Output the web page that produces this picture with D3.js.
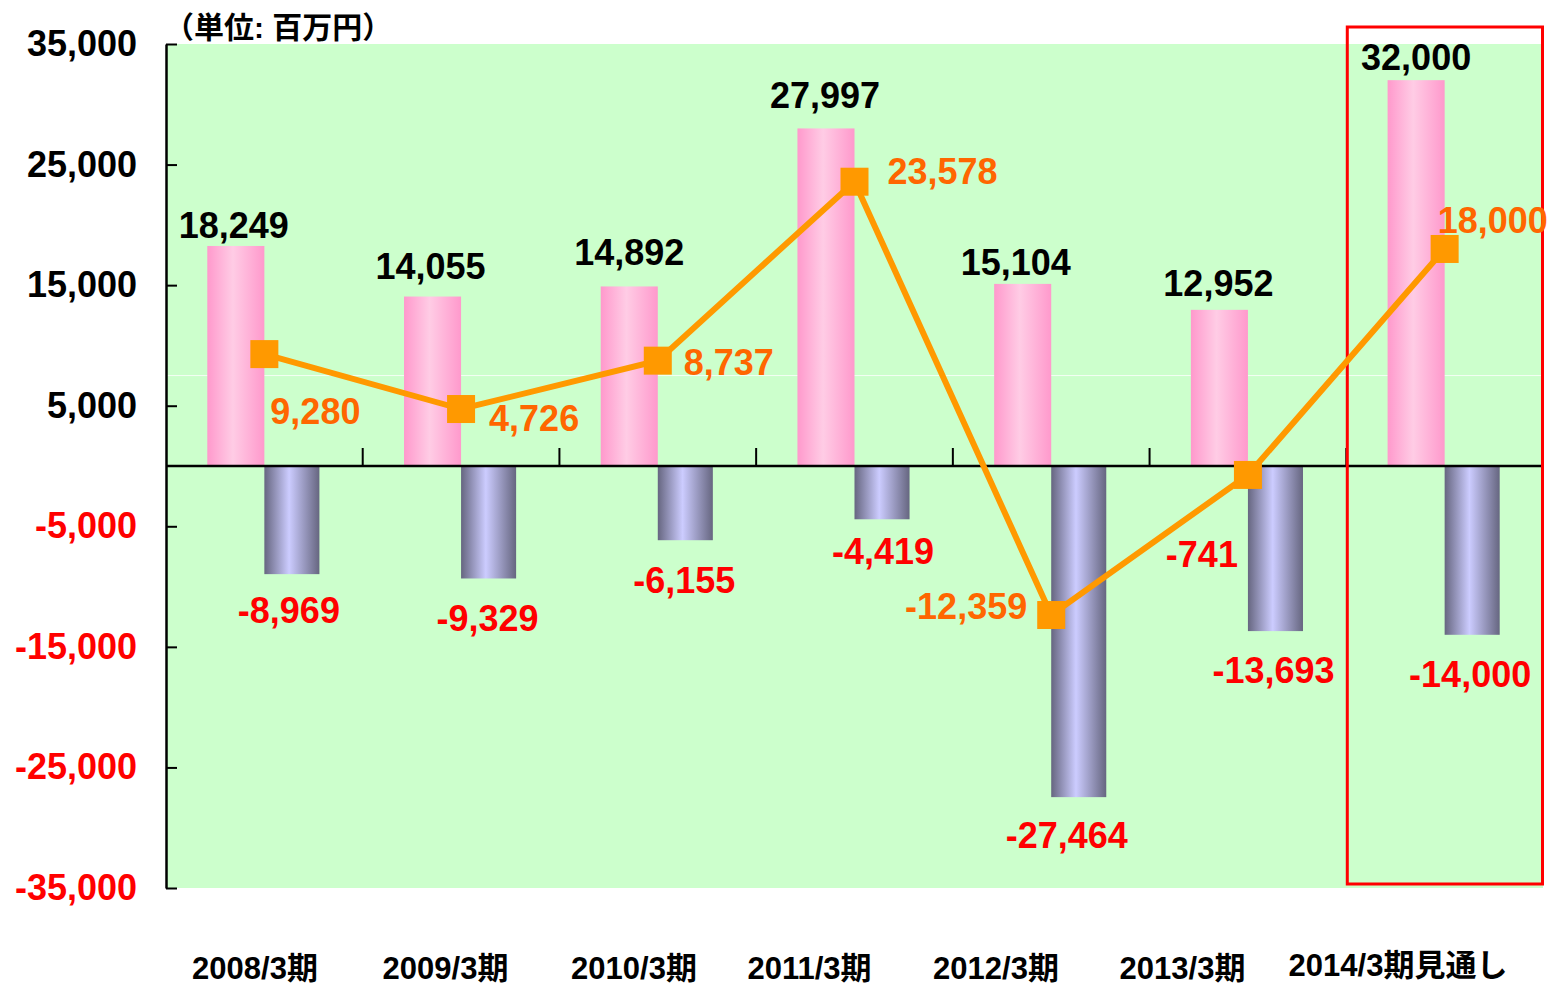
<!DOCTYPE html>
<html>
<head>
<meta charset="utf-8">
<title>業績推移</title>
<script src="https://d3js.org/d3.v7.min.js"></script>
<style>
  body { margin: 0; background: #fff; }
  svg text { font-family: "Liberation Sans", Arial, "Noto Sans CJK JP", sans-serif; font-weight: bold; }
</style>
</head>
<body>
<script>
// data
var categories = ["2008/3期", "2009/3期", "2010/3期", "2011/3期", "2012/3期", "2013/3期", "2014/3期見通し"];
var pinkValues = [18249, 14055, 14892, 27997, 15104, 12952, 32000];
var blueValues = [-8969, -9329, -6155, -4419, -27464, -13693, -14000];
var lineValues = [9280, 4726, 8737, 23578, -12359, -741, 18000];
var yTicks = [35000, 25000, 15000, 5000, -5000, -15000, -25000, -35000];
var unitLabel = "（単位: 百万円）";

// layout
var width = 1549, height = 985;
var plotLeft = 166, plotRight = 1543, plotTop = 44, plotBottom = 888;
var fmt = d3.formatLocale({decimal: ".", thousands: ",", grouping: [3], currency: ["", ""], minus: "-"}).format(",");

// label tweaks (pixels)
var pinkLabelGap = [8, 18, 21, 20, 9, 14, 10];
var pinkLabelDx = [-2, -2, 0, -1, -7, -1, 0];
var blueLabelGap = [49, 53, 53, 45, 51, 52, 52];
var blueLabelDx = [-3, -1, -1, 1, -12, -2, -2];
var lineLabelPos = [
  {anchor: "start", dx: 6, dy: 70},
  {anchor: "start", dx: 28, dy: 22},
  {anchor: "start", dx: 26, dy: 14},
  {anchor: "start", dx: 33, dy: 2},
  {anchor: "end", dx: -24, dy: 4},
  {anchor: "end", dx: -10, dy: 92},
  {anchor: "start", dx: -7, dy: -16}
];
var lineLabelColor = ["#FF6600", "#FF6600", "#FF6600", "#FF6600", "#FF6600", "#FF0000", "#FF6600"];
var catLabelShift = [0, 0, -2, -17, -21, -25, 0];

var svg = d3.select("body").append("svg")
  .attr("width", width)
  .attr("height", height);

var defs = svg.append("defs");
var pinkGrad = defs.append("linearGradient").attr("id", "pinkGrad").attr("x1", 0).attr("x2", 1).attr("y1", 0).attr("y2", 0);
pinkGrad.append("stop").attr("offset", "0%").attr("stop-color", "#FF99CC");
pinkGrad.append("stop").attr("offset", "45%").attr("stop-color", "#FFCCE5");
pinkGrad.append("stop").attr("offset", "100%").attr("stop-color", "#FF99CC");
var blueGrad = defs.append("linearGradient").attr("id", "blueGrad").attr("x1", 0).attr("x2", 1).attr("y1", 0).attr("y2", 0);
blueGrad.append("stop").attr("offset", "0%").attr("stop-color", "#666680");
blueGrad.append("stop").attr("offset", "45%").attr("stop-color", "#CCCCFF");
blueGrad.append("stop").attr("offset", "100%").attr("stop-color", "#666680");

var x = d3.scaleBand().domain(categories).range([plotLeft, plotRight]).paddingInner(0).paddingOuter(0);
var y = d3.scaleLinear().domain([-35000, 35000]).range([plotBottom, plotTop]);
var xLabel = d3.scalePoint().domain(categories).range([255, 1398]);
var barW = x.bandwidth() * 0.29;
var cx = function(d, i) { return x(categories[i]) + x.bandwidth() / 2; };

// plot background
svg.append("rect")
  .attr("x", plotLeft).attr("y", plotTop)
  .attr("width", plotRight - plotLeft).attr("height", plotBottom - plotTop)
  .attr("fill", "#CCFFCC");

svg.append("line")
  .attr("x1", plotLeft).attr("x2", plotRight)
  .attr("y1", y(7500)).attr("y2", y(7500))
  .attr("stroke", "#ffffff").attr("stroke-width", 1).attr("opacity", 0.8);

// bars
svg.append("g").selectAll("rect")
  .data(pinkValues)
  .enter()
  .append("rect")
  .attr("x", function(d, i) { return cx(d, i) - barW; })
  .attr("y", function(d) { return y(d); })
  .attr("width", barW)
  .attr("height", function(d) { return y(0) - y(d); })
  .attr("fill", "url(#pinkGrad)");

svg.append("g").selectAll("rect")
  .data(blueValues)
  .enter()
  .append("rect")
  .attr("x", function(d, i) { return cx(d, i); })
  .attr("y", y(0))
  .attr("width", barW - 2)
  .attr("height", function(d) { return y(d) - y(0); })
  .attr("fill", "url(#blueGrad)");

// zero line with category ticks
svg.append("line")
  .attr("x1", plotLeft).attr("x2", plotRight)
  .attr("y1", y(0)).attr("y2", y(0))
  .attr("stroke", "#000").attr("stroke-width", 2.5);

svg.append("g").selectAll("line")
  .data(categories.slice(1))
  .enter()
  .append("line")
  .attr("x1", function(d) { return x(d); })
  .attr("x2", function(d) { return x(d); })
  .attr("y1", y(0) - 18).attr("y2", y(0))
  .attr("stroke", "#000").attr("stroke-width", 2);

// y axis
var yAxis = svg.append("g")
  .attr("transform", "translate(" + plotLeft + ",0)")
  .call(d3.axisLeft(y).tickValues(yTicks).tickFormat(fmt).tickSizeInner(-11).tickSizeOuter(0).tickPadding(29));
yAxis.select(".domain").attr("stroke", "#000").attr("stroke-width", 2.5);
yAxis.selectAll(".tick line").attr("stroke", "#000").attr("stroke-width", 2);
yAxis.selectAll(".tick text")
  .attr("font-size", 36)
  .attr("font-family", "'Liberation Sans', Arial, sans-serif")
  .attr("font-weight", "bold")
  .attr("fill", function(d) { return d < 0 ? "#FF0000" : "#000"; });

// unit label
svg.append("text")
  .attr("x", 164).attr("y", 38)
  .attr("font-size", 30)
  .attr("fill", "#000")
  .text(unitLabel);

// category labels
svg.append("g").selectAll("text")
  .data(categories)
  .enter()
  .append("text")
  .attr("x", function(d, i) { return xLabel(d) + catLabelShift[i]; })
  .attr("y", function(d, i) { return i === 6 ? 976 : 979; })
  .attr("text-anchor", "middle")
  .attr("font-size", 31)
  .attr("fill", "#000")
  .text(function(d) { return d; });

// forecast box
svg.append("rect")
  .attr("x", x(categories[6]) + 1)
  .attr("y", y(35000) - 17)
  .attr("width", x.bandwidth() - 1.5)
  .attr("height", (y(-35000) - 4) - (y(35000) - 17))
  .attr("fill", "none")
  .attr("stroke", "#FF0000")
  .attr("stroke-width", 3);

// line + markers
var line = d3.line()
  .x(function(d, i) { return cx(d, i); })
  .y(function(d) { return y(d); });

svg.append("path")
  .datum(lineValues)
  .attr("d", line)
  .attr("fill", "none")
  .attr("stroke", "#FF9900")
  .attr("stroke-width", 6);

svg.append("g").selectAll("rect")
  .data(lineValues)
  .enter()
  .append("rect")
  .attr("x", function(d, i) { return cx(d, i) - 14; })
  .attr("y", function(d) { return y(d) - 14; })
  .attr("width", 28).attr("height", 28)
  .attr("fill", "#FF9900");

// value labels
svg.append("g").selectAll("text")
  .data(pinkValues)
  .enter()
  .append("text")
  .attr("x", function(d, i) { return cx(d, i) - barW / 2 + pinkLabelDx[i]; })
  .attr("y", function(d, i) { return y(d) - pinkLabelGap[i]; })
  .attr("text-anchor", "middle")
  .attr("font-size", 36)
  .attr("fill", "#000")
  .text(function(d) { return fmt(d); });

svg.append("g").selectAll("text")
  .data(blueValues)
  .enter()
  .append("text")
  .attr("x", function(d, i) { return cx(d, i) + barW / 2 - 1 + blueLabelDx[i]; })
  .attr("y", function(d, i) { return y(d) + blueLabelGap[i]; })
  .attr("text-anchor", "middle")
  .attr("font-size", 36)
  .attr("fill", "#FF0000")
  .text(function(d) { return fmt(d); });

svg.append("g").selectAll("text")
  .data(lineValues)
  .enter()
  .append("text")
  .attr("x", function(d, i) { return cx(d, i) + lineLabelPos[i].dx; })
  .attr("y", function(d, i) { return y(d) + lineLabelPos[i].dy; })
  .attr("text-anchor", function(d, i) { return lineLabelPos[i].anchor; })
  .attr("font-size", 36)
  .attr("fill", function(d, i) { return lineLabelColor[i]; })
  .text(function(d) { return fmt(d); });
</script>
</body>
</html>
